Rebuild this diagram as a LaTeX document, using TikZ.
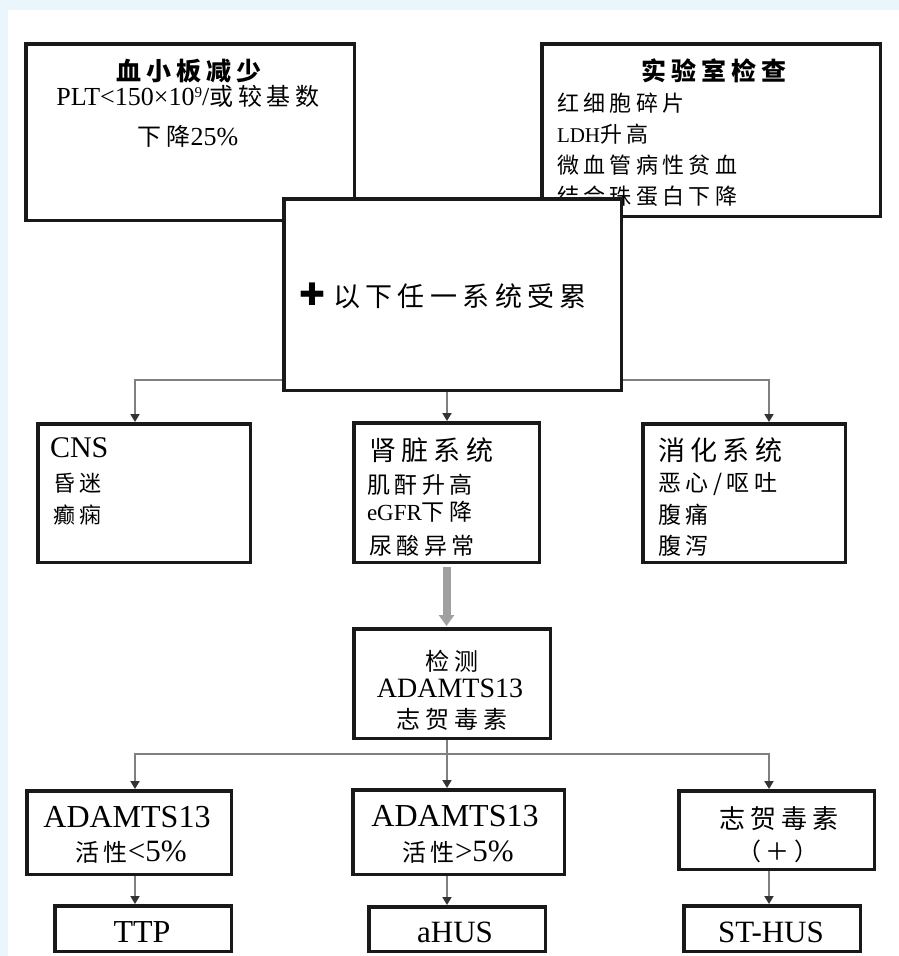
\documentclass[tikz,border=0pt]{standalone}
\usepackage{fontspec}
\setmainfont{Liberation Serif}
\newfontfamily\cjk[LetterSpace=20]{Noto Sans CJK SC}
\newfontfamily\symfont{DejaVu Sans}
\usetikzlibrary{arrows.meta,backgrounds}
\definecolor{bgblue}{HTML}{EAF5FC}
\definecolor{conngray}{HTML}{808080}
\definecolor{tipgray}{HTML}{333333}
\definecolor{biggray}{HTML}{A0A0A0}
\newcommand\fsz[1]{\fontsize{#1}{#1}\selectfont}
\begin{document}
\begin{tikzpicture}[x=1pt,y=-1pt,
  box/.style={draw=black!90, line width=3.5pt, fill=white, inner sep=0pt},
  ctxt/.style={inner sep=0pt, outer sep=0pt, anchor=base},
  ltxt/.style={inner sep=0pt, outer sep=0pt, anchor=base west},
  conn/.style={draw=conngray, line width=1.8pt, -{Triangle[width=9pt,length=8pt,color=tipgray]}},
  plainconn/.style={draw=conngray, line width=1.8pt},
  bigarrow/.style={draw=biggray, line width=8pt, -{Triangle[width=15pt,length=11pt]}}]
\useasboundingbox (0,0) rectangle (899,956);
\begin{scope}[on background layer]
  \fill[bgblue] (0,0) rectangle (899,956);
  \fill[white] (8,10) rectangle (899,956);
\end{scope}

% top left box
\node[box, minimum width=328.5pt, minimum height=176.5pt] (b1) at (190,132) {};
\node[ctxt] (b1t) at (189,80) {\fsz{25}\bfseries\cjk 血小板减少};
\node[ctxt] (b1a) at (188,105) {{\fsz{26}PLT<150×10{\fsz{15}\raisebox{8pt}{9}}/}{\fsz{24}\cjk 或较基数}};
\node[ctxt] (b1b) at (188,145) {{\fsz{24}\cjk 下降}{\fsz{26}25\%}};

% top right box
\node[box, minimum width=338.5pt, minimum height=172.5pt] (b2) at (711,130) {};
\node[ctxt] (b2t) at (714,80) {\fsz{25}\bfseries\cjk 实验室检查};
\node[ltxt] (b2a) at (557,111) {\fsz{22}\cjk 红细胞碎片};
\node[ltxt] (b2b) at (557,142) {{\fsz{21}LDH}{\fsz{22}\cjk 升高}};
\node[ltxt] (b2c) at (557,173) {\fsz{22}\cjk 微血管病性贫血};
\node[ltxt] (b2d) at (557,204) {\fsz{22}\cjk 结合珠蛋白下降};

% central box
\node[box, minimum width=337.5pt, minimum height=191.5pt] (bc) at (452.5,294.5) {};
\node[inner sep=0pt] (plus) at (312,294) {\fsz{31}\symfont ✚};
\node[ltxt] (bct) at (333,306) {\fsz{27}\cjk 以下任一系统受累};

% second row
\node[box, minimum width=212.5pt, minimum height=138.5pt] (cns) at (144,493) {};
\node[ltxt] (cnst) at (50,457) {\fsz{30}CNS};
\node[ltxt] (cnsa) at (53,491) {\fsz{22}\cjk 昏迷};
\node[ltxt] (cnsb) at (53,523) {\fsz{22}\cjk 癫痫};

\node[box, minimum width=185.5pt, minimum height=139.5pt] (kid) at (446.5,492.5) {};
\node[ltxt] (kidt) at (369,460) {\fsz{27}\cjk 肾脏系统};
\node[ltxt] (kida) at (367,493) {\fsz{23}\cjk 肌酐升高};
\node[ltxt] (kidb) at (367,520) {{\fsz{23}eGFR}{\fsz{23}\cjk 下降}};
\node[ltxt] (kidc) at (369,554) {\fsz{23}\cjk 尿酸异常};

\node[box, minimum width=202.5pt, minimum height=138.5pt] (dig) at (744,493) {};
\node[ltxt] (digt) at (658,460) {\fsz{27}\cjk 消化系统};
\node[ltxt] (diga) at (658,491) {\fsz{23}\cjk 恶心/呕吐};
\node[ltxt] (digb) at (658,523) {\fsz{23}\cjk 腹痛};
\node[ltxt] (digc) at (658,554) {\fsz{23}\cjk 腹泻};

% detection
\node[box, minimum width=196.5pt, minimum height=109.5pt] (det) at (452,683.5) {};
\node[ctxt] (deta) at (452,670) {\fsz{24}\cjk 检测};
\node[ctxt] (detb) at (450,697) {\fsz{28}ADAMTS13};
\node[ctxt] (detc) at (452,728) {\fsz{24}\cjk 志贺毒素};

% third row
\node[box, minimum width=204.5pt, minimum height=83.5pt] (r1) at (129,832.5) {};
\node[ctxt] (r1a) at (127,827) {\fsz{32}ADAMTS13};
\node[ctxt] (r1b) at (131,861) {{\fsz{24}\cjk 活性}{\fsz{31}<5\%}};

\node[box, minimum width=211.5pt, minimum height=84.5pt] (r2) at (458.5,832) {};
\node[ctxt] (r2a) at (455,826) {\fsz{32}ADAMTS13};
\node[ctxt] (r2b) at (458,861) {{\fsz{24}\cjk 活性}{\fsz{31}>5\%}};

\node[box, minimum width=195.5pt, minimum height=78.5pt] (r3) at (776.5,830) {};
\node[ctxt] (r3a) at (779,828) {\fsz{26}\cjk 志贺毒素};
\node[ctxt] (r3b) at (778,860) {\fsz{24}\cjk （＋）};

% results
\node[box, minimum width=176.5pt, minimum height=45.5pt] (t1) at (143,928.5) {};
\node[ctxt] (t1a) at (142,942) {\fsz{32}TTP};
\node[box, minimum width=176.5pt, minimum height=44.5pt] (t2) at (457,929) {};
\node[ctxt] (t2a) at (455,942) {\fsz{31}aHUS};
\node[box, minimum width=176.5pt, minimum height=45.5pt] (t3) at (772,928.5) {};
\node[ctxt] (t3a) at (771,942) {\fsz{31}ST-HUS};

% connectors
\begin{scope}[on background layer]
  \coordinate (j1) at (447,380);
  \draw[conn] (j1) -| ([xshift=-9pt]cns.north);
  \draw[conn] (j1) -| ([xshift=25pt]dig.north);
  \draw[conn] (j1 |- bc.south) -- (j1 |- kid.north);
  \draw[bigarrow, shorten <=3pt, shorten >=1pt] (kid.south) -- (kid.south |- det.north);
  \coordinate (j2) at (447,754);
  \draw[plainconn] (j2 |- det.south) -- (j2);
  \draw[conn] (j2) -| ([xshift=6pt]r1.north);
  \draw[conn] (j2) -| ([xshift=-7.5pt]r3.north);
  \draw[conn] (j2) -- (j2 |- r2.north);
  \draw[conn] ([xshift=6pt]r1.south) -- ([xshift=6pt]r1.south |- t1.north);
  \draw[conn] (j2 |- r2.south) -- (j2 |- t2.north);
  \draw[conn] ([xshift=-7.5pt]r3.south) -- ([xshift=-7.5pt]r3.south |- t3.north);
\end{scope}
\end{tikzpicture}
\end{document}
